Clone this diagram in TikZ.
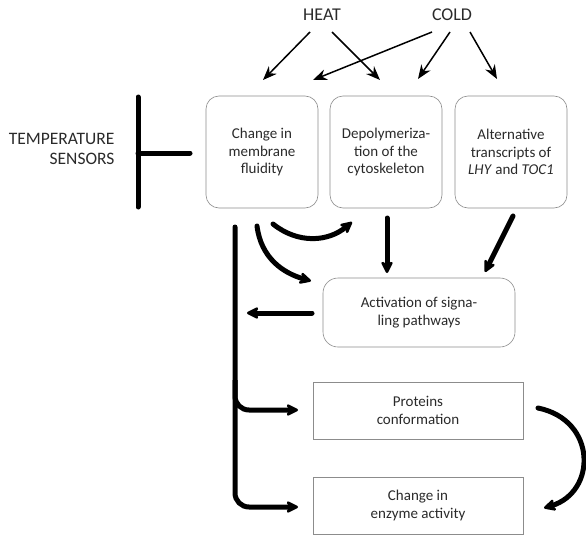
\documentclass[tikz,border=0pt]{standalone}
\usepackage{fontspec}
\setmainfont{Carlito}
\usetikzlibrary{arrows.meta}
\definecolor{txt}{HTML}{2A2A2A}
\definecolor{bord}{HTML}{8C8C8C}
\begin{document}
\begin{tikzpicture}[x=1pt,y=-1pt,
  lbl/.style={text=txt,font=\fontsize{15}{17.8}\selectfont,align=center},
  rbox/.style={draw=bord,line width=0.6pt,rounded corners=13pt,minimum width=112pt,minimum height=112pt,lbl},
  sbox/.style={draw=bord,line width=0.6pt,minimum width=210pt,minimum height=57pt,lbl},
  thin/.style={line width=1.5pt,-{Stealth[length=14pt,width=11pt]}},
  thick/.style={line width=5pt,line cap=round,-{Stealth[length=15pt,width=15pt,round]}},
  bar/.style={line width=5pt,line cap=round}]
\useasboundingbox (0,0) rectangle (586,535);
% top labels
\node[text=txt,font=\fontsize{18}{20}\selectfont] (heat) at (322,15) {HEAT};
\node[text=txt,font=\fontsize{18}{20}\selectfont] (cold) at (452,15) {COLD};
% boxes
\node[rbox] (b1) at (262,152) {Change in\\membrane\\fluidity};
\node[rbox] (b2) at (386,152) {Depolymeriza-\\tion of the\\cytoskeleton};
\node[rbox] (b3) at (511,152) {Alternative\\transcripts of\\\textit{LHY} and \textit{TOC1}};
\node[draw=bord,line width=0.6pt,rounded corners=15pt,minimum width=192pt,minimum height=69pt,lbl] (act) at (419,312.5) {Activation of signa-\\ling pathways};
\node[sbox] (prot) at (418,410.5) {Proteins\\conformation};
\node[sbox] (enz) at (418,505.5) {Change in\\enzyme activity};
% temperature sensors
\node[text=txt,font=\fontsize{17.5}{20}\selectfont,align=right,anchor=east] (ts) at (118,149) {TEMPERATURE\\SENSORS};
\coordinate (tbt) at (138,97);
\coordinate (tbb) at (138,207);
\coordinate (tbm) at (138,153);
\coordinate (tbe) at (190,153);
\draw[bar] (tbt) -- (tbb);
\draw[bar] (tbm) -- (tbe);
% heat / cold arrows
\coordinate (h1) at (310,32);
\coordinate (h2) at (332,32);
\coordinate (c1) at (432,32);
\coordinate (c2) at (450,32);
\coordinate (c3) at (470,32);
\coordinate (e11) at (263,80);
\coordinate (e12) at (380,80);
\coordinate (e21) at (313,80);
\coordinate (e22) at (418,79);
\coordinate (e23) at (497,79);
\draw[thin] (h1) -- (e11);
\draw[thin] (h2) -- (e12);
\draw[thin] (c1) -- (e21);
\draw[thin] (c2) -- (e22);
\draw[thin] (c3) -- (e23);
% thick arrows
\coordinate (s2) at (387,218);
\coordinate (t2) at (387,273);
\draw[thick] (s2) -- (t2);
\coordinate (s3) at (513,216);
\coordinate (t3) at (485,272);
\draw[thick] (s3) -- (t3);
\coordinate (sa) at (257,226);
\coordinate (ta) at (311,281);
\draw[thick] (sa) .. controls (261,258) and (283,273) .. (ta);
\coordinate (sb) at (273,224);
\coordinate (tb) at (352,222);
\draw[thick] (sb) .. controls (298,244) and (328,242) .. (tb);
\coordinate (sl) at (312,313);
\coordinate (tl) at (247,313);
\draw[thick] (sl) -- (tl);
% left trunk
\coordinate (vt) at (235,227);
\coordinate (vp) at (298,410);
\coordinate (ve) at (298,507);
\draw[thick,rounded corners=14pt] (vt) |- (ve);
\draw[thick,line cap=butt,rounded corners=14pt] (235,380) |- (vp);
% right curved arrow
\coordinate (rs) at (538,408);
\coordinate (re) at (544,508);
\draw[thick] (rs) .. controls (597,420) and (597,492) .. (re);
\end{tikzpicture}
\end{document}
